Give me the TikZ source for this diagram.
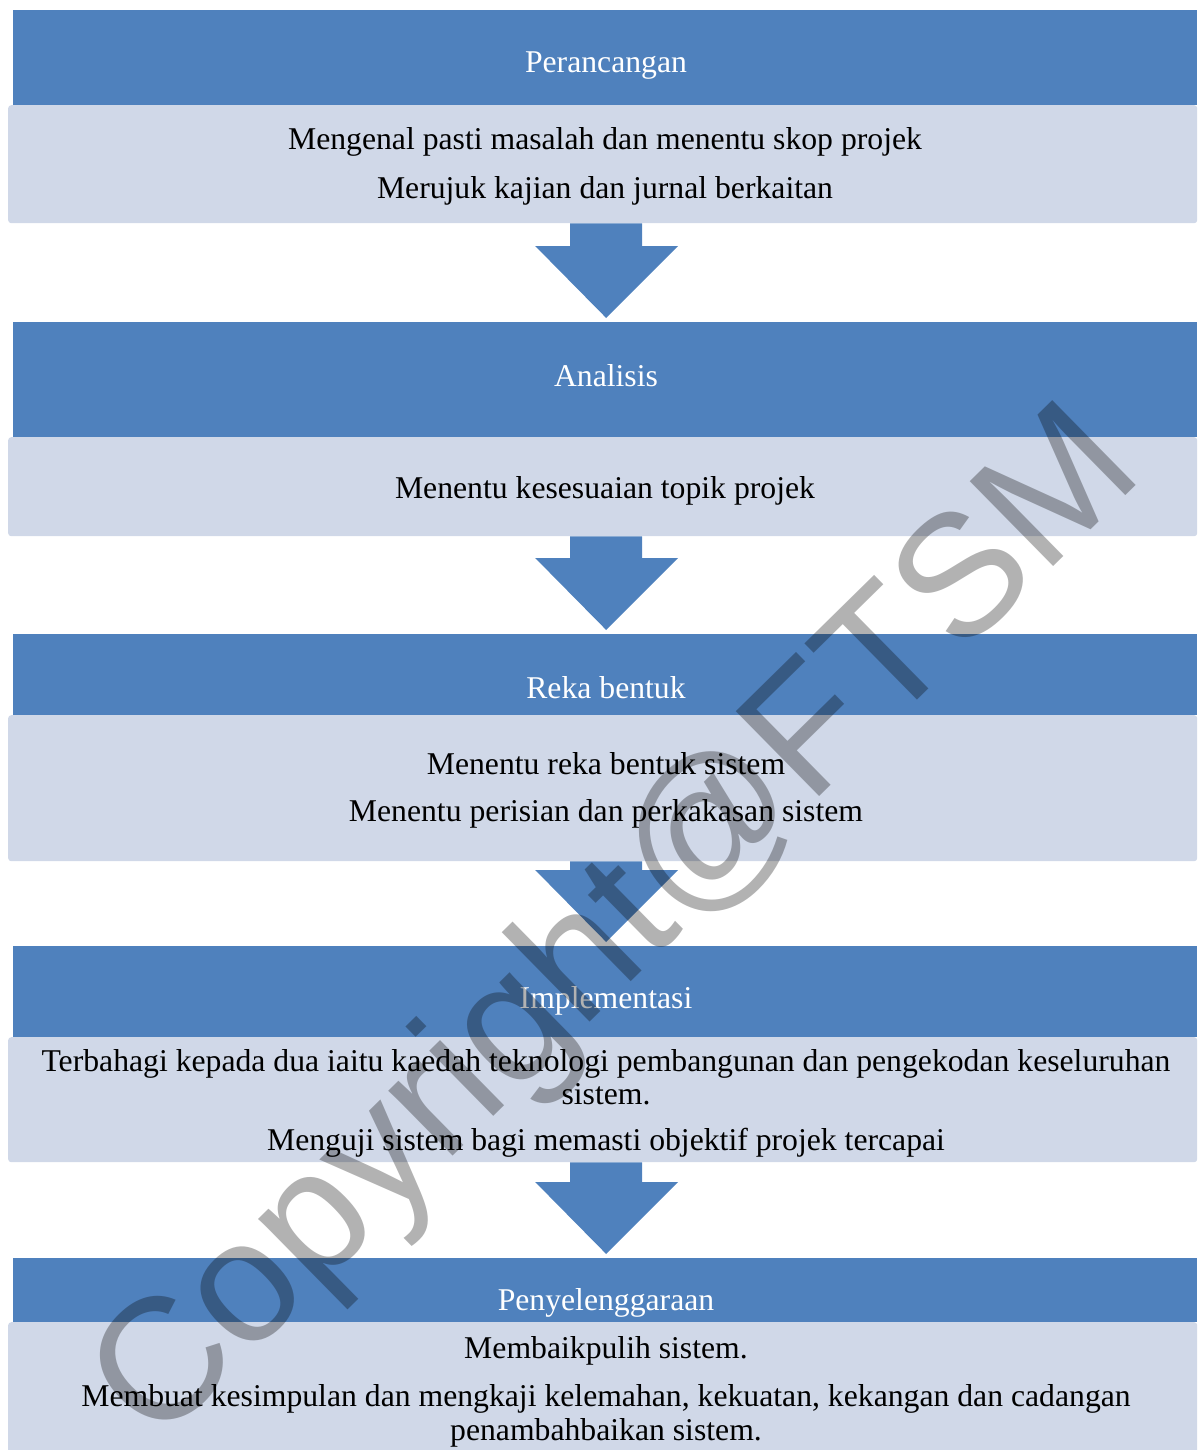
\documentclass[tikz,border=0pt]{standalone}
\usepackage{fontspec}
\setmainfont{Liberation Serif}
\newfontfamily\wmfont{Liberation Sans}
\usetikzlibrary{calc}
\definecolor{barblue}{HTML}{4F81BD}
\definecolor{boxgray}{HTML}{D0D8E8}
\tikzset{
  bar/.style={fill=barblue, inner sep=0pt, anchor=north west, minimum width=1184pt, rectangle},
  panel/.style={fill=boxgray, inner sep=0pt, anchor=north west, minimum width=1189pt, rounded corners=3pt, rectangle},
  flow/.style={fill=barblue},
  headtxt/.style={text=white, inner sep=0pt, anchor=base, font=\fontsize{31.7}{38}\selectfont},
  bodytxt/.style={text=black, inner sep=0pt, anchor=base, font=\fontsize{31.7}{38}\selectfont},
  wm/.style={text=black, text opacity=0.3, inner sep=0pt, font=\wmfont\fontsize{173}{173}\selectfont}
}
\newcommand\flowarrow[2]{%
  \coordinate (tip#1) at ($(#2.north)+(1,-4)$);
  \fill[flow] (#1.south -| tip#1) ++(-36,0) -- ++(72,0) -- ($(tip#1)+(36,-72)$) -- ($(tip#1)+(72,-72)$) -- (tip#1) -- ($(tip#1)+(-71,-72)$) -- ($(tip#1)+(-36,-72)$) -- cycle;
}
\begin{document}
\begin{tikzpicture}[x=1pt, y=-1pt]
\useasboundingbox (0,0) rectangle (1197,1450);
% bars and panels
\node[bar, minimum height=95pt] (bar1) at (13,10) {};
\node[panel, minimum height=118pt] (box1) at (8,105) {};
\node[bar, minimum height=115pt] (bar2) at (13,322) {};
\node[panel, minimum height=99pt] (box2) at (8,437) {};
\node[bar, minimum height=81pt] (bar3) at (13,634) {};
\node[panel, minimum height=146pt] (box3) at (8,715) {};
\node[bar, minimum height=91pt] (bar4) at (13,946) {};
\node[panel, minimum height=125pt] (box4) at (8,1037) {};
\node[bar, minimum height=64pt] (bar5) at (13,1258) {};
\node[panel, minimum height=140pt] (box5) at (8,1322) {};
% arrows
\flowarrow{box1}{bar2}
\flowarrow{box2}{bar3}
\flowarrow{box3}{bar4}
\flowarrow{box4}{bar5}
% texts
\node[headtxt] (h1) at (606,73) {Perancangan};
\node[bodytxt] (t1a) at (605,150) {Mengenal pasti masalah dan menentu skop projek};
\node[bodytxt] (t1b) at (605,198) {Merujuk kajian dan jurnal berkaitan};
\node[headtxt] (h2) at (606,386) {Analisis};
\node[bodytxt] (t2a) at (605,498) {Menentu kesesuaian topik projek};
\node[headtxt] (h3) at (606,698) {Reka bentuk};
\node[bodytxt] (t3a) at (606,774) {Menentu reka bentuk sistem};
\node[bodytxt] (t3b) at (606,821) {Menentu perisian dan perkakasan sistem};
\node[headtxt] (h4) at (606,1008) {Implementasi};
\node[bodytxt] (t4a) at (606,1071) {Terbahagi kepada dua iaitu kaedah teknologi pembangunan dan pengekodan keseluruhan};
\node[bodytxt] (t4b) at (606,1104) {sistem.};
\node[bodytxt] (t4c) at (606,1150) {Menguji sistem bagi memasti objektif projek tercapai};
\node[headtxt] (h5) at (606,1310) {Penyelenggaraan};
\node[bodytxt] (t5a) at (606,1358) {Membaikpulih sistem.};
\node[bodytxt] (t5b) at (606,1406) {Membuat kesimpulan dan mengkaji kelemahan, kekuatan, kekangan dan cadangan};
\node[bodytxt] (t5c) at (606,1440) {penambahbaikan sistem.};
% watermark
\node[wm, rotate=44.5] (wmark) at (620,930) {Copyright@FTSM};
\end{tikzpicture}
\end{document}
